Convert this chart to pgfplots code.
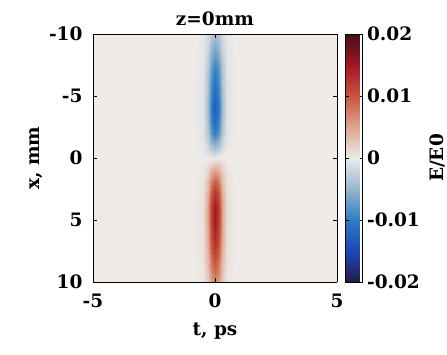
\documentclass[border=0pt]{standalone}
\usepackage{pgfplots}
\pgfplotsset{compat=1.18}
\usepackage{fontspec}
\setmainfont{DejaVu Serif}
\newcommand{\lblfont}{\bfseries\fontsize{18.5}{22}\selectfont}
\begin{document}
\begin{tikzpicture}
\useasboundingbox (0,0) rectangle (447pt,354pt);
\begin{axis}[
  at={(93pt,72pt)}, anchor=south west,
  scale only axis, width=244pt, height=248pt,
  view={0}{90},
  xmin=-5, xmax=5, ymin=-10, ymax=10,
  y dir=reverse,
  xtick={-5,0,5}, ytick={-10,-5,0,5,10},
  tick align=inside, major tick length=4pt,
  tick style={black, line width=0.6pt},
  axis line style={black, line width=0.8pt},
  /pgf/number format/assume math mode=true,
  ticklabel style={font=\lblfont},
  xticklabel style={yshift=-8pt},
  yticklabel style={xshift=-7pt},
  label style={font=\lblfont},
  xlabel style={yshift=-9pt},
  ylabel style={yshift=0pt},
  title style={font=\lblfont, yshift=-1pt},
  title={\lblfont z=0mm},
  xlabel={\lblfont t, ps}, ylabel={\lblfont x, mm},
  colormap={eo}{rgb255=(35,28,70) rgb255=(30,70,185) rgb255=(45,125,195) rgb255=(150,182,205) rgb255=(237,234,232) rgb255=(222,165,143) rgb255=(200,85,60) rgb255=(165,20,40) rgb255=(65,15,25)},
  point meta min=-0.02, point meta max=0.02,
  colorbar,
  colorbar style={
    at={(parent axis.north east)}, anchor=north west, xshift=0pt, width=17pt,
    y dir=normal,
    ytick={-0.02,-0.01,0,0.01,0.02},
    scaled y ticks=false,
    /pgf/number format/assume math mode=true,
    yticklabel={\pgfmathprintnumber[fixed,precision=2]{\tick}},
    yticklabel style={font=\lblfont, xshift=1pt},
    major tick length=3pt,
    ylabel={\lblfont E/E0},
    ylabel style={font=\lblfont, at={(axis description cs:5.4,0.5)}, anchor=center, rotate=0},
  },
]
\addplot3[surf, shader=interp, mesh/cols=11] table[x=t, y=x, z=v] {
t x v
-5 -10 0
-0.8 -10 0
-0.5 -10 -0.0002
-0.3 -10 -0.0014
-0.15 -10 -0.003
0 -10 -0.004
0.15 -10 -0.003
0.3 -10 -0.0014
0.5 -10 -0.0002
0.8 -10 0
5 -10 0

-5 -9 0
-0.8 -9 0
-0.5 -9 -0.0004
-0.3 -9 -0.0021
-0.15 -9 -0.0045
0 -9 -0.006
0.15 -9 -0.0045
0.3 -9 -0.0021
0.5 -9 -0.0004
0.8 -9 0
5 -9 0

-5 -8 0
-0.8 -8 0
-0.5 -8 -0.0005
-0.3 -8 -0.0028
-0.15 -8 -0.006
0 -8 -0.008
0.15 -8 -0.006
0.3 -8 -0.0028
0.5 -8 -0.0005
0.8 -8 0
5 -8 0

-5 -7 0
-0.8 -7 0
-0.5 -7 -0.0006
-0.3 -7 -0.0035
-0.15 -7 -0.0075
0 -7 -0.010
0.15 -7 -0.0075
0.3 -7 -0.0035
0.5 -7 -0.0006
0.8 -7 0
5 -7 0

-5 -6 0
-0.8 -6 0
-0.5 -6 -0.0007
-0.3 -6 -0.0039
-0.15 -6 -0.0083
0 -6 -0.011
0.15 -6 -0.0083
0.3 -6 -0.0039
0.5 -6 -0.0007
0.8 -6 0
5 -6 0

-5 -5 0
-0.8 -5 0
-0.5 -5 -0.0007
-0.3 -5 -0.0042
-0.15 -5 -0.009
0 -5 -0.012
0.15 -5 -0.009
0.3 -5 -0.0042
0.5 -5 -0.0007
0.8 -5 0
5 -5 0

-5 -4 0
-0.8 -4 0
-0.5 -4 -0.0008
-0.3 -4 -0.0046
-0.15 -4 -0.0098
0 -4 -0.013
0.15 -4 -0.0098
0.3 -4 -0.0046
0.5 -4 -0.0008
0.8 -4 0
5 -4 0

-5 -3 0
-0.8 -3 0
-0.5 -3 -0.0007
-0.3 -3 -0.0042
-0.15 -3 -0.009
0 -3 -0.012
0.15 -3 -0.009
0.3 -3 -0.0042
0.5 -3 -0.0007
0.8 -3 0
5 -3 0

-5 -2 0
-0.8 -2 0
-0.5 -2 -0.0006
-0.3 -2 -0.0035
-0.15 -2 -0.0075
0 -2 -0.010
0.15 -2 -0.0075
0.3 -2 -0.0035
0.5 -2 -0.0006
0.8 -2 0
5 -2 0

-5 -1 0
-0.8 -1 0
-0.5 -1 -0.0003
-0.3 -1 -0.0018
-0.15 -1 -0.0038
0 -1 -0.005
0.15 -1 -0.0038
0.3 -1 -0.0018
0.5 -1 -0.0003
0.8 -1 0
5 -1 0

-5 0 0
-0.8 0 0
-0.5 0 0
-0.3 0 0
-0.15 0 0
0 0 0
0.15 0 0
0.3 0 0
0.5 0 0
0.8 0 0
5 0 0

-5 1 0
-0.8 1 0
-0.5 1 0.0003
-0.3 1 0.0018
-0.15 1 0.0038
0 1 0.005
0.15 1 0.0038
0.3 1 0.0018
0.5 1 0.0003
0.8 1 0
5 1 0

-5 2 0
-0.8 2 0
-0.5 2 0.0006
-0.3 2 0.0035
-0.15 2 0.0075
0 2 0.010
0.15 2 0.0075
0.3 2 0.0035
0.5 2 0.0006
0.8 2 0
5 2 0

-5 3 0
-0.8 3 0
-0.5 3 0.0008
-0.3 3 0.0046
-0.15 3 0.0098
0 3 0.013
0.15 3 0.0098
0.3 3 0.0046
0.5 3 0.0008
0.8 3 0
5 3 0

-5 4 0
-0.8 4 0
-0.5 4 0.0009
-0.3 4 0.0053
-0.15 4 0.0113
0 4 0.015
0.15 4 0.0113
0.3 4 0.0053
0.5 4 0.0009
0.8 4 0
5 4 0

-5 5 0
-0.8 5 0
-0.5 5 0.0009
-0.3 5 0.0053
-0.15 5 0.0113
0 5 0.015
0.15 5 0.0113
0.3 5 0.0053
0.5 5 0.0009
0.8 5 0
5 5 0

-5 6 0
-0.8 6 0
-0.5 6 0.0008
-0.3 6 0.0049
-0.15 6 0.0105
0 6 0.014
0.15 6 0.0105
0.3 6 0.0049
0.5 6 0.0008
0.8 6 0
5 6 0

-5 7 0
-0.8 7 0
-0.5 7 0.0008
-0.3 7 0.0046
-0.15 7 0.0098
0 7 0.013
0.15 7 0.0098
0.3 7 0.0046
0.5 7 0.0008
0.8 7 0
5 7 0

-5 8 0
-0.8 8 0
-0.5 8 0.0007
-0.3 8 0.0039
-0.15 8 0.0083
0 8 0.011
0.15 8 0.0083
0.3 8 0.0039
0.5 8 0.0007
0.8 8 0
5 8 0

-5 9 0
-0.8 9 0
-0.5 9 0.0005
-0.3 9 0.0032
-0.15 9 0.0068
0 9 0.009
0.15 9 0.0068
0.3 9 0.0032
0.5 9 0.0005
0.8 9 0
5 9 0

-5 10 0
-0.8 10 0
-0.5 10 0.0004
-0.3 10 0.0025
-0.15 10 0.0053
0 10 0.007
0.15 10 0.0053
0.3 10 0.0025
0.5 10 0.0004
0.8 10 0
5 10 0
};
\end{axis}
\end{tikzpicture}
\end{document}
